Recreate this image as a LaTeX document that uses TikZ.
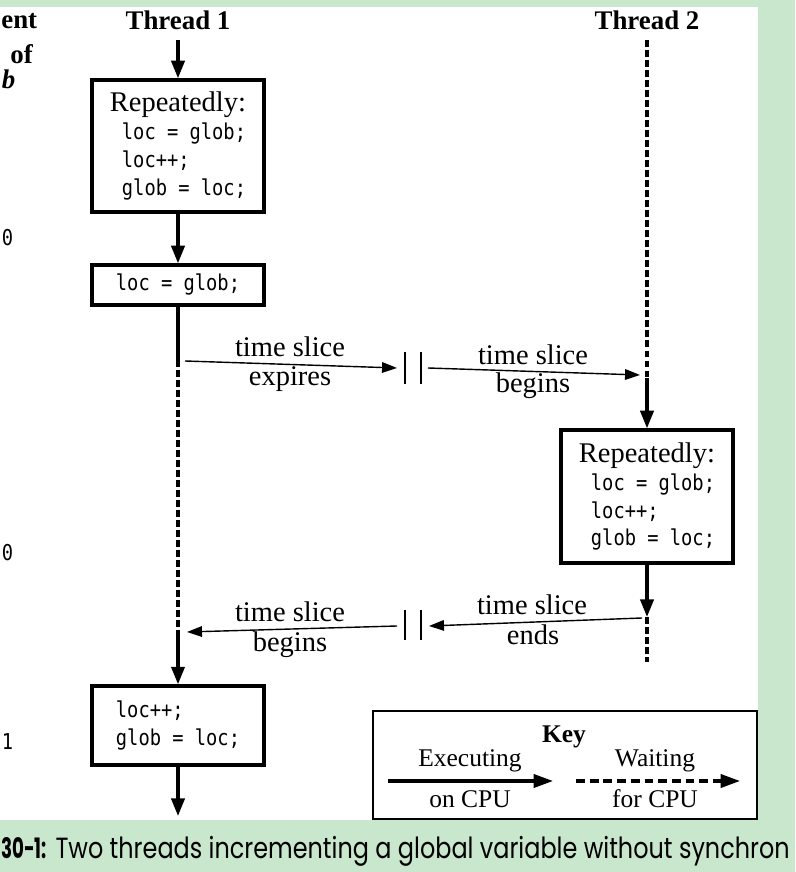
\documentclass[tikz,border=0pt]{standalone}
\usepackage{fontspec}
\setmainfont{Liberation Serif}
\newfontfamily\codefont[FakeStretch=0.86]{DejaVu Sans Mono}
\newfontfamily\capfont[FakeStretch=0.82]{Poppins}
\newfontfamily\capnum[FakeStretch=0.65]{Poppins}
\usetikzlibrary{arrows.meta}
\definecolor{pagegreen}{RGB}{201,231,204}
\newcommand{\code}[1]{{\codefont\fontsize{12.4}{15.9}\selectfont #1}}

\tikzset{
  codebox/.style={draw, line width=1.9pt, align=left, inner sep=0pt, minimum width=3.44cm, font=\fontsize{16.2}{15.9}\selectfont},
  flow/.style={line width=1.9pt, -{Triangle[length=10pt,width=7.5pt]}},
  wait/.style={line width=2.1pt, dash pattern=on 3.8pt off 1.9pt},
  slice/.style={line width=0.8pt, -{Triangle[length=8.5pt,width=6pt]}},
  lbl/.style={font=\fontsize{16.2}{16}\selectfont, anchor=base},
  keylbl/.style={font=\fontsize{14.5}{15}\selectfont},
  head/.style={font=\bfseries\fontsize{15.3}{16}\selectfont, anchor=base},
}

\begin{document}
\begin{tikzpicture}
\useasboundingbox (0,0) rectangle (15.9,17.44);
\fill[pagegreen] (0,0) rectangle (15.9,17.44);
\fill[white] (0,1.04) rectangle (15.16,17.30);

\node[head, anchor=base west, inner sep=0pt] (cur) at (0.02,16.86) {ent};
\node[head, anchor=base west, inner sep=0pt] (of) at (0.2,16.16) {of};
\node[head, anchor=base west, inner sep=0pt] (gl) at (0.03,15.66) {\itshape b};
\node[anchor=west, inner sep=0pt] (v1) at (0.03,12.68) {\code{0}};
\node[anchor=west, inner sep=0pt] (v2) at (0.03,6.38) {\code{0}};
\node[anchor=west, inner sep=0pt] (v3) at (0.03,2.6) {\code{1}};

\node[head] (t1) at (3.56,16.84) {Thread 1};
\node[head] (t2) at (12.94,16.84) {Thread 2};

\coordinate (t1top) at (3.56,16.64);
\node[codebox, minimum height=2.64cm] (rep1) at (3.56,14.52)
  {Repeatedly:\\ \hspace*{0.24cm}\code{loc = glob;}\\ \hspace*{0.24cm}\code{loc++;}\\ \hspace*{0.24cm}\code{glob = loc;}};
\node[codebox, minimum height=0.8cm] (set1) at (3.56,11.74) {\code{loc = glob;}};
\coordinate (t1a) at (3.56,10.24);
\coordinate (t1b) at (3.56,4.8);
\node[codebox, minimum height=1.58cm] (inc1) at (3.56,2.93)
  {\code{loc++;}\\ \code{glob = loc;}};
\coordinate (t1end) at (3.56,1.12);

\draw[flow] (t1top) -- (rep1);
\draw[flow] (rep1) -- (set1);
\draw[line width=1.9pt] (set1.south) -- (t1a);
\draw[wait] (t1a) -- (t1b);
\draw[flow] (t1b) -- (inc1);
\draw[flow] (inc1) -- (t1end);

\coordinate (t2top) at (12.94,16.64);
\coordinate (t2a) at (12.94,9.88);
\node[codebox, minimum height=2.66cm] (rep2) at (12.94,7.51)
  {Repeatedly:\\ \hspace*{0.24cm}\code{loc = glob;}\\ \hspace*{0.24cm}\code{loc++;}\\ \hspace*{0.24cm}\code{glob = loc;}};
\coordinate (t2b) at (12.94,5.1);
\coordinate (t2end) at (12.94,4.2);

\draw[wait] (t2top) -- (t2a);
\draw[flow] (t2a) -- (rep2);
\draw[flow] (rep2) -- (t2b);
\draw[wait] (t2b) -- (t2end);

\coordinate (s1a) at (3.70,10.22);
\coordinate (s1b) at (7.94,10.08);
\coordinate (s2a) at (8.56,10.08);
\coordinate (s2b) at (12.80,9.94);
\draw[slice] (s1a) -- (s1b);
\draw[slice] (s2a) -- (s2b);
\draw[line width=0.6pt] (8.10,10.40) -- (8.10,9.76);
\draw[line width=0.6pt] (8.42,10.40) -- (8.42,9.76);
\node[lbl] (exp1) at (5.80,10.30) {time slice};
\node[lbl] (exp2) at (5.80,9.72) {expires};
\node[lbl] (beg1) at (10.66,10.14) {time slice};
\node[lbl] (beg2) at (10.66,9.58) {begins};

\coordinate (e1a) at (12.84,5.08);
\coordinate (e1b) at (8.58,4.92);
\coordinate (b1a) at (7.94,4.92);
\coordinate (b1b) at (3.74,4.80);
\draw[slice] (e1a) -- (e1b);
\draw[slice] (b1a) -- (b1b);
\draw[line width=0.6pt] (8.10,5.24) -- (8.10,4.64);
\draw[line width=0.6pt] (8.42,5.24) -- (8.42,4.64);
\node[lbl] (end1) at (10.64,5.14) {time slice};
\node[lbl] (end2) at (10.66,4.54) {ends};
\node[lbl] (beg3) at (5.80,5.00) {time slice};
\node[lbl] (beg4) at (5.80,4.40) {begins};

\node[draw, line width=1pt, minimum width=7.68cm, minimum height=2.16cm] (key) at (11.30,2.14) {};
\node[keylbl, font=\bfseries\fontsize{14.5}{15}\selectfont] (keyt) at (11.28,2.70) {Key};
\node[keylbl] (ex1) at (9.40,2.22) {Executing};
\node[keylbl] (ex2) at (9.40,1.46) {on CPU};
\node[keylbl] (wt1) at (13.10,2.22) {Waiting};
\node[keylbl] (wt2) at (13.10,1.46) {for CPU};
\coordinate (kxa) at (7.76,1.82);
\coordinate (kxb) at (11.06,1.82);
\coordinate (kwa) at (11.52,1.82);
\coordinate (kwb) at (14.80,1.82);
\draw[line width=1.8pt, -{Triangle[length=11pt,width=7.5pt]}] (kxa) -- (kxb);
\draw[line width=1.8pt, dash pattern=on 5pt off 2.8pt, -{Triangle[length=11pt,width=7.5pt]}] (kwa) -- (kwb);

\node[anchor=base west, inner sep=0pt, font=\capfont\fontsize{16.6}{17}\selectfont] (cap) at (0.02,0.27)
  {{\capnum\bfseries\fontsize{16}{17}\selectfont 30-1:} Two threads incrementing a global variable without synchron};
\end{tikzpicture}
\end{document}
